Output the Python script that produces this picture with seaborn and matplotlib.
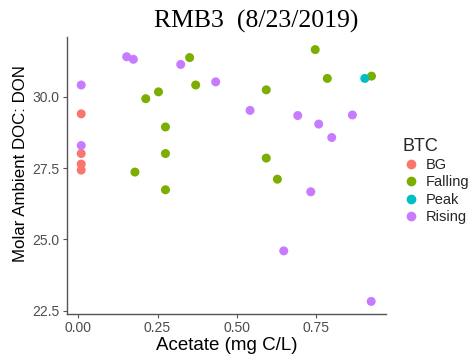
import matplotlib
matplotlib.use("Agg")
import matplotlib.pyplot as plt
import seaborn as sns
import pandas as pd
from matplotlib.lines import Line2D

# Data
bg_x = [0.01, 0.01, 0.01, 0.01]
bg_y = [29.40, 28.01, 27.64, 27.43]

falling_x = [0.746, 0.351, 0.370, 0.213, 0.253, 0.592, 0.784, 0.923, 0.275, 0.275, 0.592, 0.179, 0.627, 0.275]
falling_y = [31.65, 31.37, 30.41, 29.93, 30.17, 30.24, 30.64, 30.72, 28.94, 28.01, 27.85, 27.36, 27.11, 26.74]

peak_x = [0.902]
peak_y = [30.64]

rising_x = [0.01, 0.153, 0.174, 0.323, 0.433, 0.541, 0.691, 0.757, 0.863, 0.798, 0.01, 0.732, 0.647, 0.922]
rising_y = [30.41, 31.40, 31.31, 31.13, 30.52, 29.52, 29.34, 29.04, 29.36, 28.57, 28.29, 26.67, 24.60, 22.83]

categories = ["BG", "Falling", "Peak", "Rising"]
colors = ["#F8766D", "#7CAE00", "#00BFC4", "#C77CFF"]
x_ticks = [0.00, 0.25, 0.50, 0.75]
y_ticks = [22.5, 25.0, 27.5, 30.0]

df = pd.DataFrame({
    "Acetate": bg_x + falling_x + peak_x + rising_x,
    "DOCDON": bg_y + falling_y + peak_y + rising_y,
    "BTC": ["BG"] * len(bg_x) + ["Falling"] * len(falling_x) + ["Peak"] * len(peak_x) + ["Rising"] * len(rising_x),
})

sns.set_theme(style="white")
plt.rcParams["font.family"] = ["Liberation Sans", "DejaVu Sans"]

W, H = 472, 360
fig = plt.figure(figsize=(W / 100, H / 100), dpi=100)
ax_l, ax_r, ax_t, ax_b = 66.7, 386, 37, 314
ax = fig.add_axes([ax_l / W, 1 - ax_b / H, (ax_r - ax_l) / W, (ax_b - ax_t) / H])

sns.scatterplot(data=df, x="Acetate", y="DOCDON", hue="BTC", hue_order=categories,
                palette=colors, s=42, linewidth=0, ax=ax, legend=False, zorder=3)

xmin, xmax = min(df.Acetate), max(df.Acetate)
ymin, ymax = min(df.DOCDON), max(df.DOCDON)
dx, dy = (xmax - xmin) * 0.05, (ymax - ymin) * 0.05
ax.set_xlim(xmin - dx, xmax + dx)
ax.set_ylim(ymin - dy, ymax + dy)
ax.set_xticks(x_ticks)
ax.set_xticklabels([f"{v:.2f}" for v in x_ticks])
ax.set_yticks(y_ticks)
ax.set_yticklabels([f"{v:.1f}" for v in y_ticks])

for side in ["top", "right"]:
    ax.spines[side].set_visible(False)
for side in ["left", "bottom"]:
    ax.spines[side].set_color("#555555")
    ax.spines[side].set_linewidth(1.0)
ax.tick_params(axis="both", which="both", length=3, width=0.8, color="#555555",
               labelcolor="#4D4D4D", labelsize=10, pad=2, direction="out",
               bottom=True, left=True)
ax.grid(False)

ax.set_xlabel("Acetate (mg C/L)", fontsize=13.5, color="black", va="center")
ax.xaxis.set_label_coords(0.5, (ax_b - 346) / (ax_b - ax_t))
ax.set_ylabel("Molar Ambient DOC: DON", fontsize=12.2, color="black", va="center")
ax.yaxis.set_label_coords((21 - ax_l) / (ax_r - ax_l), (ax_b - 164) / (ax_b - ax_t))

fig.text(256 / W, 1 - 21 / H, "RMB3  (8/23/2019)", ha="center", va="center",
         fontsize=18.5, family=["Liberation Serif", "DejaVu Serif"], color="black")

handles = [Line2D([0], [0], marker="o", linestyle="", markersize=7,
                  markerfacecolor=c, markeredgewidth=0) for c in colors]
leg = fig.legend(handles, categories, title="BTC", loc="upper left",
                 bbox_to_anchor=(402 / W, 1 - 138 / H), frameon=False,
                 fontsize=10.5, title_fontsize=13, handletextpad=0.4,
                 labelspacing=0.22, borderaxespad=0, borderpad=0,
                 handlelength=1.2)
leg._legend_box.align = "left"

fig.savefig("out.png", dpi=100)
